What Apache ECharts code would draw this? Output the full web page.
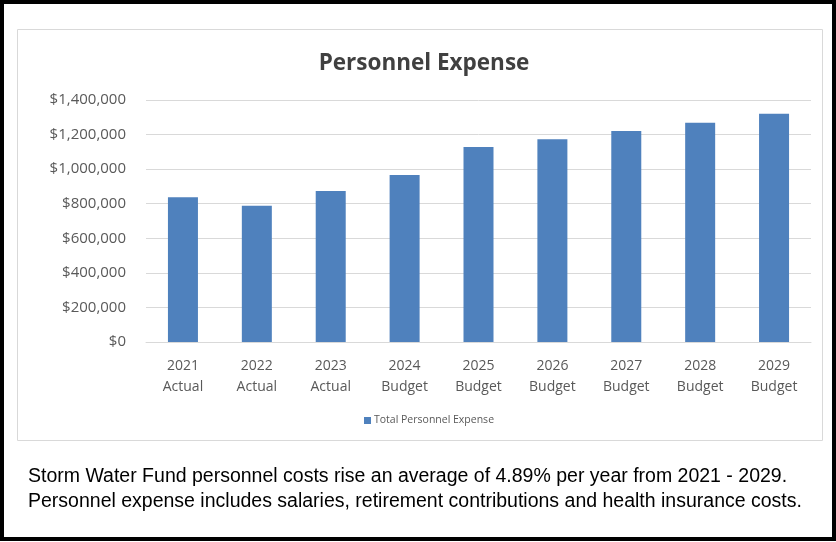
<!DOCTYPE html>
<html><head><meta charset="utf-8">
<script src="https://cdn.jsdelivr.net/npm/echarts@6/dist/echarts.min.js"></script>
<style>html,body{margin:0;padding:0;background:#fff;}#c{width:836px;height:542px;}</style>
</head><body><div id="c"></div>
<script>
const categories = ['2021\nActual','2022\nActual','2023\nActual','2024\nBudget','2025\nBudget','2026\nBudget','2027\nBudget','2028\nBudget','2029\nBudget'];
const personnelExpense = [838000, 788000, 873000, 966000, 1128000, 1173000, 1220000, 1268000, 1320000];
const seriesName = 'Total Personnel Expense';
const titleText = 'Personnel Expense';
const noteLines = [
  'Storm Water Fund personnel costs rise an average of 4.89% per year from 2021 - 2029.',
  'Personnel expense includes salaries, retirement contributions and health insurance costs.'
];

const chart = echarts.init(document.getElementById('c'), null, {renderer:'canvas'});
chart.setOption({
  animation: false,
  title: {text: titleText, left: 419, top: 47, textAlign: 'center',
    textStyle: {fontFamily: 'Open Sans', fontWeight: 'bold', fontSize: 22.5, color: '#404040'}},
  legend: {data: [seriesName], top: 410, left: 359, itemWidth: 7, itemHeight: 7, itemGap: 4,
    icon: 'rect', textStyle: {fontFamily: 'Open Sans', fontSize: 10.5, color: '#595959', padding:[0,0,0,-2]}},
  grid: {left: 146, right: 25, top: 100, bottom: 200},
  xAxis: {type: 'category', data: categories,
    axisLine: {show: true, lineStyle: {color: '#d9d9d9'}}, axisTick: {show: false},
    axisLabel: {fontFamily: 'Open Sans', fontSize: 14, color: '#595959', lineHeight: 21, margin: 14}},
  yAxis: {type: 'value', min: 0, max: 1400000, interval: 200000,
    axisLine: {show: false}, axisTick: {show: false},
    splitLine: {lineStyle: {color: '#d9d9d9'}},
    axisLabel: {fontFamily: 'Open Sans', fontSize: 15, color: '#595959', margin: 20,
      formatter: v => '$' + v.toLocaleString('en-US')}},
  series: [{name: seriesName, type: 'bar', data: personnelExpense, barWidth: 30,
    itemStyle: {color: '#4F81BD'}}],
  graphic: [
    {type: 'rect', shape: {x: 17.5, y: 29.5, width: 805, height: 411}, style: {fill: null, stroke: '#d9d9d9', lineWidth: 1}, z: -1},
    {type: 'rect', shape: {x: 2, y: 2, width: 832, height: 537}, style: {fill: null, stroke: '#000', lineWidth: 4}},
    {type: 'text', left: 28, top: 467, style: {text: noteLines[0], font: '19.5px "Liberation Sans", Arial', fill: '#000'}},
    {type: 'text', left: 28, top: 492, style: {text: noteLines[1], font: '19.5px "Liberation Sans", Arial', fill: '#000'}}
  ]
});
</script></body></html>
